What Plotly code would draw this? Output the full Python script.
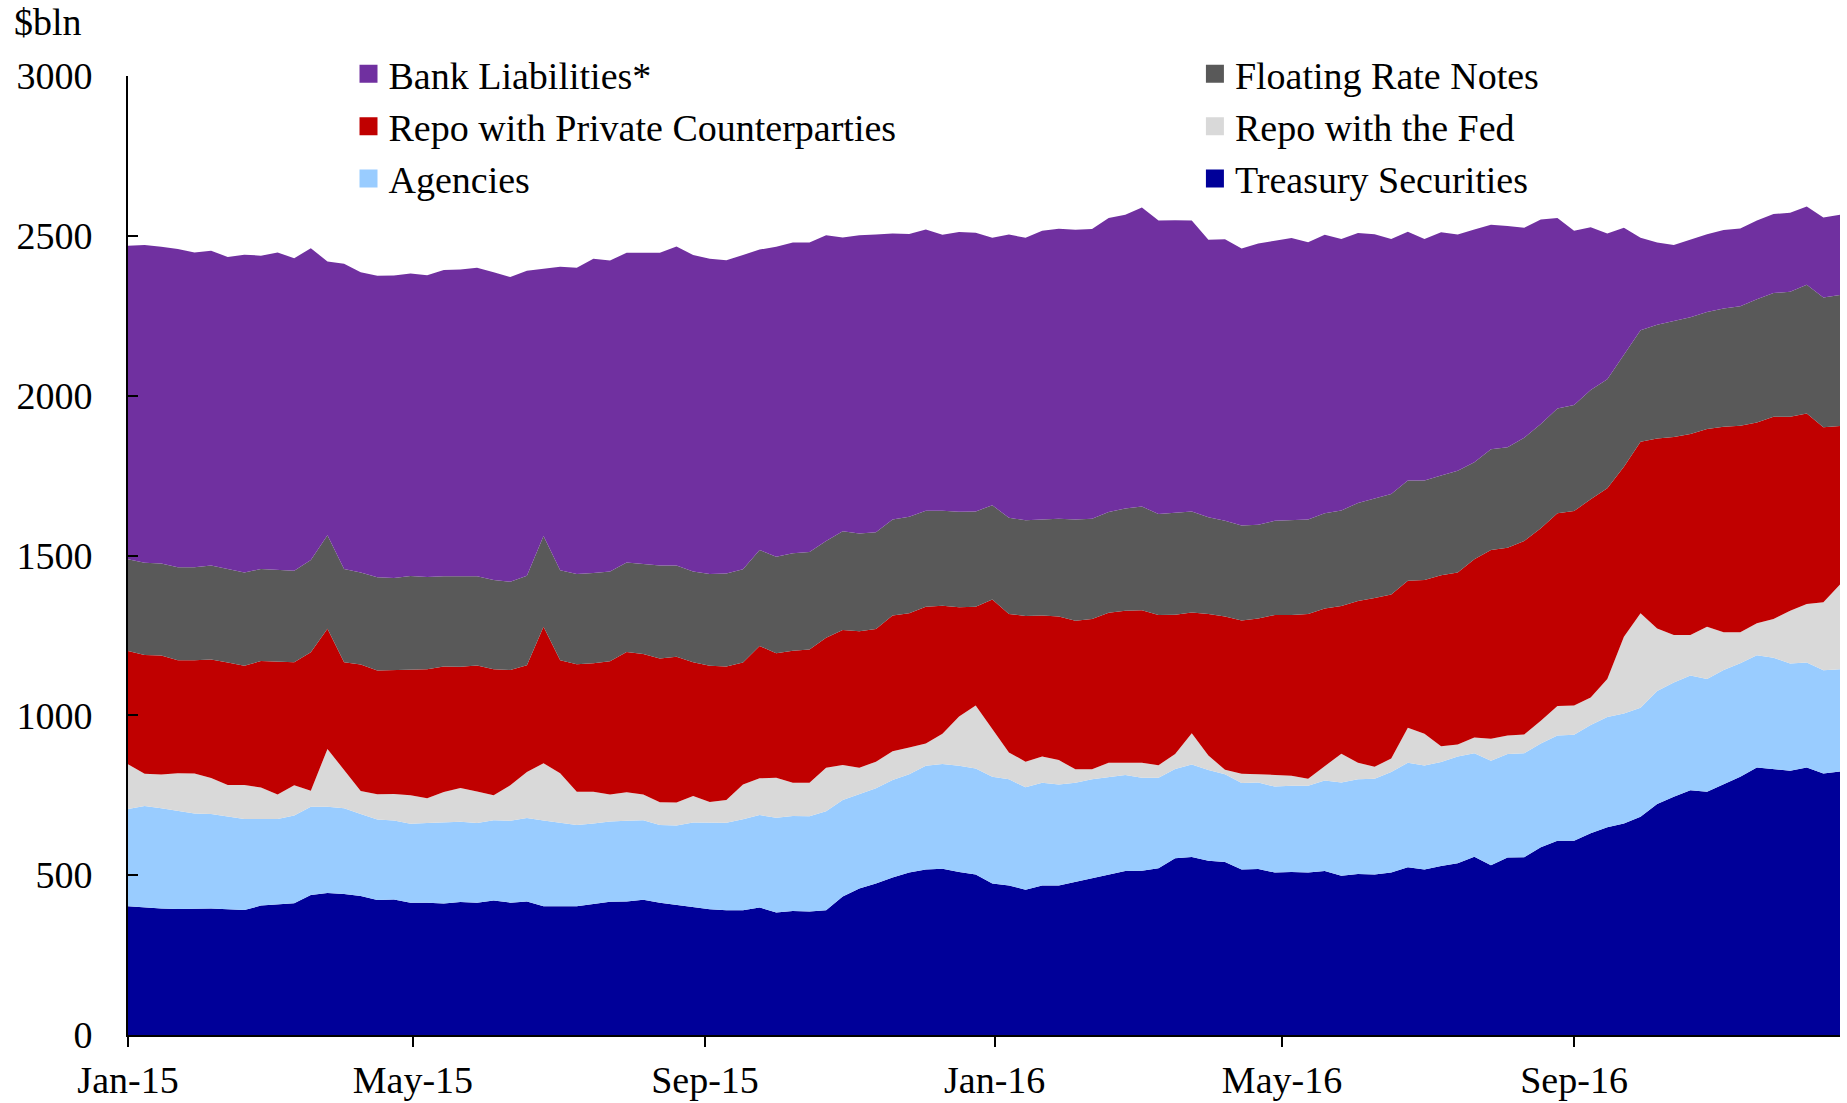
import pandas as pd
import plotly.graph_objects as go

# Weekly observations, Jan 2015 - Dec 2016 ($ billions)
weeks = pd.date_range("2015-01-01", periods=104, freq="7D")

treasury = [403, 399, 396, 394, 394, 396, 393, 391, 405, 408,
            412, 438, 444, 441, 435, 422, 424, 414, 414, 411,
            416, 414, 421, 414, 418, 403, 402, 403, 410, 417,
            418, 423, 414, 407, 400, 393, 390, 390, 399, 383,
            388, 386, 390, 433, 458, 474, 493, 508, 518, 520,
            510, 502, 474, 468, 454, 468, 468, 479, 489, 500,
            513, 514, 522, 553, 557, 545, 541, 518, 519, 508,
            510, 508, 513, 498, 504, 502, 508, 525, 518, 529,
            537, 558, 531, 555, 556, 587, 608, 608, 631, 650,
            662, 683, 723, 745, 766, 761, 785, 808, 837, 832,
            827, 837, 818, 824]

agencies = [304, 317, 313, 308, 299, 295, 290, 285, 271, 268,
            275, 276, 270, 268, 256, 252, 247, 247, 249, 253,
            251, 249, 251, 256, 261, 268, 262, 254, 252, 251,
            252, 249, 243, 248, 265, 271, 274, 285, 289, 297,
            297, 298, 310, 302, 295, 298, 305, 308, 324, 328,
            332, 332, 334, 332, 321, 321, 316, 310, 311, 306,
            300, 291, 283, 279, 289, 284, 275, 270, 271, 269,
            270, 272, 283, 292, 296, 300, 315, 327, 325, 325,
            334, 323, 327, 324, 325, 325, 329, 331, 339, 345,
            344, 341, 353, 358, 359, 353, 357, 355, 351, 348,
            335, 328, 323, 320]

repo_fed = [140, 101, 106, 117, 125, 113, 99, 106, 98, 76,
            94, 50, 181, 120, 72, 79, 83, 89, 78, 96,
            106, 99, 78, 111, 144, 179, 155, 104, 99, 84,
            89, 80, 71, 72, 83, 65, 71, 109, 115, 125,
            104, 105, 136, 110, 83, 83, 90, 83, 70, 94,
            154, 197, 151, 84, 80, 82, 76, 42, 31, 46,
            39, 47, 39, 47, 98, 45, 14, 29, 26, 37,
            31, 22, 45, 90, 52, 37, 42, 109, 99, 49,
            38, 50, 69, 58, 59, 71, 92, 92, 86, 119,
            240, 295, 196, 148, 126, 163, 118, 97, 100, 121,
            165, 183, 213, 265]

repo_private = [354, 372, 372, 353, 354, 371, 383, 373, 396, 416,
                385, 433, 376, 337, 396, 387, 387, 394, 403, 393,
                379, 394, 394, 361, 334, 427, 353, 399, 402, 417,
                439, 440, 450, 456, 418, 426, 418, 381, 414, 389,
                413, 417, 407, 422, 427, 415, 424, 420, 428, 401,
                342, 309, 403, 433, 456, 441, 449, 465, 470, 469,
                475, 477, 470, 436, 378, 443, 479, 480, 487, 500,
                503, 515, 493, 462, 506, 528, 513, 460, 481, 535,
                538, 557, 590, 587, 605, 602, 603, 608, 620, 596,
                532, 537, 594, 620, 629, 619, 643, 646, 628, 633,
                607, 596, 547, 496]

frn = [287, 288, 288, 291, 291, 294, 293, 292, 288, 286,
       286, 289, 292, 292, 288, 292, 289, 292, 289, 282,
       282, 279, 279, 276, 280, 284, 282, 282, 282, 281,
       280, 281, 291, 286, 284, 287, 291, 292, 300, 302,
       305, 305, 302, 309, 306, 303, 301, 302, 300, 297,
       299, 298, 295, 301, 299, 301, 306, 317, 314, 315,
       320, 324, 316, 319, 316, 303, 300, 297, 293, 295,
       298, 296, 298, 299, 306, 312, 314, 314, 312, 312,
       318, 304, 315, 315, 323, 326, 328, 332, 342, 341,
       350, 349, 356, 362, 365, 366, 370, 374, 386, 387,
       391, 403, 406, 410]

bank = [981, 994, 991, 996, 985, 984, 976, 994, 980, 994,
        978, 975, 857, 955, 939, 943, 946, 946, 944, 958,
        961, 965, 963, 953, 954, 835, 949, 958, 983, 973,
        969, 974, 978, 998, 990, 986, 980, 983, 940, 970,
        972, 968, 957, 919, 933, 931, 894, 885, 880, 863,
        875, 872, 837, 886, 884, 903, 907, 906, 906, 920,
        919, 936, 918, 915, 910, 868, 880, 866, 880, 876,
        881, 867, 871, 849, 845, 826, 798, 778, 755, 761,
        739, 728, 703, 692, 657, 640, 596, 545, 509, 456,
        397, 289, 257, 238, 244, 243, 245, 243, 246, 247,
        247, 245, 250, 251]

# Stacked bottom-to-top: (name, values, colour, legend column, rank in column)
series = [
    ("Treasury Securities", treasury, "#000099", "legend2", 3),
    ("Agencies", agencies, "#99CCFF", "legend", 3),
    ("Repo with the Fed", repo_fed, "#D9D9D9", "legend2", 2),
    ("Repo with Private Counterparties", repo_private, "#C00000", "legend", 2),
    ("Floating Rate Notes", frn, "#595959", "legend2", 1),
    ("Bank Liabilities*", bank, "#7030A0", "legend", 1),
]

FONT = "Liberation Serif, Times New Roman, serif"
FS = 38

fig = go.Figure()
for name, values, color, leg, rank in series:
    fig.add_trace(go.Scatter(
        x=weeks, y=values, name=name, mode="lines",
        stackgroup="one", line=dict(width=0, color=color),
        fillcolor=color, showlegend=False, hoverinfo="x+y+name",
    ))
# square swatches for the two legend columns
for name, values, color, leg, rank in series:
    fig.add_trace(go.Scatter(
        x=[None], y=[None], name=name, mode="markers",
        marker=dict(symbol="square", size=16, color=color,
                    line=dict(width=2, color=color)),
        legend=leg, legendrank=rank, showlegend=True,
    ))

legend_style = dict(
    orientation="v", xanchor="left", yanchor="top", y=1.0349,
    traceorder="normal", bgcolor="rgba(0,0,0,0)",
    font=dict(family=FONT, size=FS, color="black"),
    itemclick=False, itemdoubleclick=False,
)

fig.update_layout(
    width=1847, height=1103,
    margin=dict(l=128, r=7, t=76, b=68, autoexpand=False),
    paper_bgcolor="white", plot_bgcolor="white",
    font=dict(family=FONT, size=FS, color="black"),
    legend=dict(x=0.1288, **legend_style),
    legend2=dict(x=0.6232, **legend_style),
    annotations=[dict(
        text="$bln", xref="paper", yref="paper", x=-0.0678, y=1.0563,
        xanchor="left", yanchor="middle", showarrow=False,
        font=dict(family=FONT, size=FS, color="black"),
    )],
)

fig.update_xaxes(
    type="date", range=["2015-01-01", "2016-12-22"],
    tick0="2015-01-01", dtick="M4", tickformat="%b-%y",
    showline=True, linecolor="black", linewidth=2,
    ticks="outside", ticklen=10, tickwidth=1.5, tickcolor="black",
    ticklabelstandoff=0, showgrid=False, zeroline=False, automargin=False,
)
fig.update_yaxes(
    range=[0, 3000], tickvals=[0, 500, 1000, 1500, 2000, 2500, 3000],
    showline=True, linecolor="black", linewidth=2,
    ticks="inside", ticklen=10, tickwidth=1.5, tickcolor="black",
    ticklabelstandoff=26, showgrid=False, zeroline=False, automargin=False,
)

fig.write_html("out.html")
